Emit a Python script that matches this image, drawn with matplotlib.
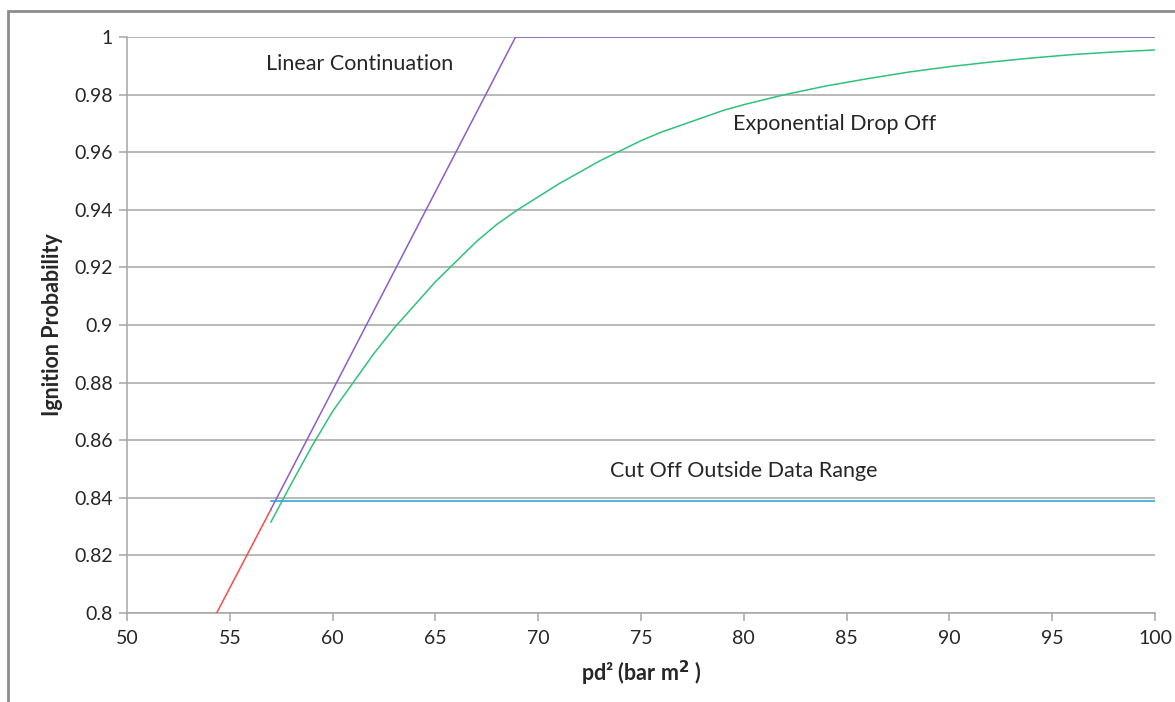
import matplotlib.pyplot as plt
from matplotlib.patches import Rectangle

plt.rcParams['font.family'] = ['Lato', 'DejaVu Sans']

# red: measured data segment
red_x = [54.36, 57.0]
red_y = [0.800, 0.836]

# purple: linear continuation, capped at 1
lin_x = [57.0, 68.9, 100.0]
lin_y = [0.836, 1.000, 1.000]

# green: exponential drop off
exp_x = [57, 58, 59, 60, 61, 62, 63, 64, 65, 66, 67, 68, 69, 70, 71, 72,
         73, 74, 75, 76, 77, 78, 79, 80, 82, 84, 86, 88, 90, 92, 94, 96,
         98, 100]
exp_y = [0.8316, 0.845, 0.858, 0.870, 0.880, 0.890, 0.899, 0.907, 0.915,
         0.922, 0.929, 0.935, 0.940, 0.9445, 0.949, 0.953, 0.957, 0.9605,
         0.964, 0.967, 0.9695, 0.972, 0.9745, 0.9765, 0.980, 0.983, 0.9855,
         0.9878, 0.9897, 0.9913, 0.9927, 0.9939, 0.9948, 0.9955]

# blue: cut off outside data range
cut_x = [57.0, 100.0]
cut_y = [0.839, 0.839]

xticks = [50, 55, 60, 65, 70, 75, 80, 85, 90, 95, 100]
yticks = [0.8, 0.82, 0.84, 0.86, 0.88, 0.9, 0.92, 0.94, 0.96, 0.98, 1.0]
ytick_labels = ['0.8', '0.82', '0.84', '0.86', '0.88', '0.9', '0.92',
                '0.94', '0.96', '0.98', '1']

fig = plt.figure(figsize=(11.75, 7.02), dpi=100)
ax = fig.add_axes([127/1175, 1 - 613/702, (1155 - 127)/1175, (613 - 37)/702])

ax.plot(red_x, red_y, color='#ff4a4a', lw=1.1, zorder=3)
ax.plot(lin_x, lin_y, color='#8e5cc8', lw=1.1, zorder=3)
ax.plot(exp_x, exp_y, color='#2fc27a', lw=1.1, zorder=3)
ax.plot(cut_x, cut_y, color='#1fa0d8', lw=1.1, zorder=3)

ax.set_xlim(50, 100)
ax.set_ylim(0.8, 1.0)
ax.set_xticks(xticks)
ax.set_yticks(yticks)
ax.set_yticklabels(ytick_labels)
ax.yaxis.grid(True, color='#a6a6a6', lw=1.1)
ax.set_axisbelow(True)
for s in ['top', 'right']:
    ax.spines[s].set_visible(False)
for s in ['left', 'bottom']:
    ax.spines[s].set_color('#a6a6a6')
    ax.spines[s].set_linewidth(1.1)
ax.tick_params(axis='both', colors='#a6a6a6', labelcolor='#262626',
               labelsize=14, length=6, width=1.1, direction='out')
ax.tick_params(axis='x', pad=6)
ax.tick_params(axis='y', pad=4)

ax.set_xlabel('pd² (bar m$^\\mathbf{2}$ )', fontsize=15.5, fontweight='bold',
              color='#262626', labelpad=9)
ax.set_ylabel('Ignition Probability', fontsize=15.5, fontweight='bold',
              color='#262626', labelpad=8)

ax.text(61.3, 0.9906, 'Linear Continuation', fontsize=15.5, color='#262626',
        ha='center', va='center')
ax.text(84.4, 0.9698, 'Exponential Drop Off', fontsize=15.5, color='#262626',
        ha='center', va='center')
ax.text(80.0, 0.8493, 'Cut Off Outside Data Range', fontsize=15.5,
        color='#262626', ha='center', va='center')

# outer chart-area border (cropped at right and bottom)
fig.add_artist(Rectangle((8/1175, -0.1), 1.2, 1 - 11/702 + 0.1,
                         transform=fig.transFigure, fill=False,
                         edgecolor='#8c8c8c', lw=2))

plt.savefig('out.png', dpi=100)
